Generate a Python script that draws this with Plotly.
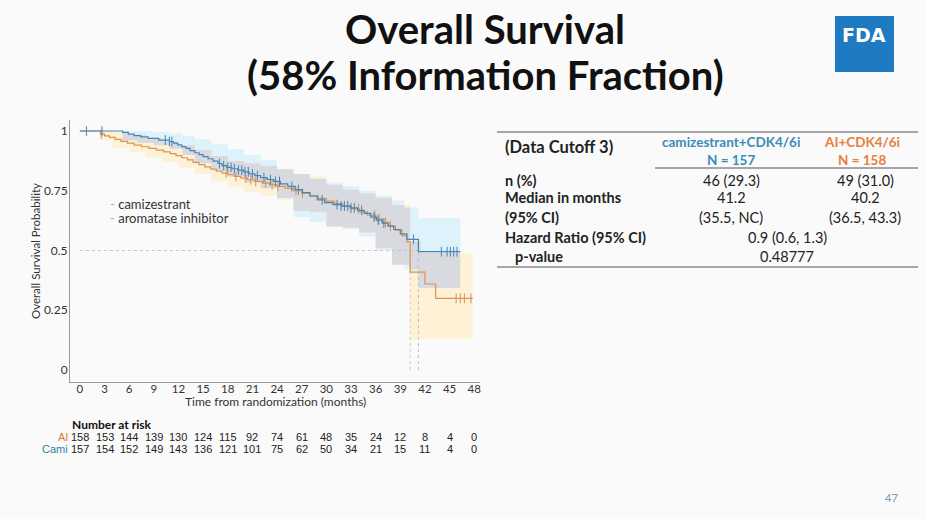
import numpy as np
import plotly.graph_objects as go

W, H = 926, 519

# Kaplan-Meier step data
cami_t = [0, 5.2, 5.9, 6.6, 7.4, 8.3, 9.6, 10.9, 11.4, 11.9, 12.4, 12.9, 13.4, 14.0, 14.5, 15.0, 15.6,
          16.2, 16.8, 17.3, 17.9, 18.5, 19.2, 19.9, 20.6, 21.3, 22.0, 22.8, 23.6, 24.4, 25.3, 26.2, 27.1,
          28.0, 28.9, 29.8, 30.8, 31.8, 32.9, 33.8, 34.6, 35.4, 36.1, 36.8, 37.5, 38.2, 39.0, 39.8, 41.2, 46.3]
cami_s = [1.0, 0.994, 0.987, 0.981, 0.975, 0.969, 0.962, 0.956, 0.949, 0.942, 0.935, 0.927, 0.918, 0.909, 0.901,
          0.893, 0.884, 0.874, 0.864, 0.855, 0.848, 0.842, 0.836, 0.829, 0.821, 0.813, 0.805, 0.797, 0.789,
          0.779, 0.768, 0.755, 0.742, 0.728, 0.712, 0.700, 0.692, 0.686, 0.678, 0.668, 0.655, 0.640, 0.627,
          0.614, 0.602, 0.588, 0.570, 0.547, 0.495, 0.495]

ai_t = [0, 2.5, 3.0, 3.6, 4.3, 5.0, 5.8, 6.6, 7.5, 8.4, 9.3, 10.2, 11.0, 11.7, 12.4, 13.1, 13.8, 14.5, 15.2,
        15.9, 16.6, 17.3, 18.0, 18.8, 19.6, 20.4, 21.3, 22.2, 23.1, 24.0, 25.0, 26.0, 27.0, 28.0, 29.0, 30.0,
        31.0, 32.0, 33.0, 34.0, 35.0, 36.0, 36.8, 37.6, 38.4, 39.2, 39.8, 40.2, 42.0, 43.3, 47.8]
ai_s = [1.0, 0.987, 0.980, 0.973, 0.965, 0.957, 0.949, 0.941, 0.934, 0.927, 0.920, 0.913, 0.905, 0.897, 0.888,
        0.879, 0.869, 0.859, 0.850, 0.841, 0.832, 0.824, 0.817, 0.810, 0.803, 0.796, 0.789, 0.782, 0.775,
        0.768, 0.760, 0.750, 0.740, 0.729, 0.718, 0.707, 0.696, 0.686, 0.675, 0.662, 0.648, 0.632, 0.618,
        0.602, 0.585, 0.562, 0.536, 0.41, 0.36, 0.30, 0.30]

# 95% confidence bands (step functions)
cami_band_t = [0, 5.2, 7, 9, 11, 12.5, 14, 16, 18, 20, 22, 24, 26, 28, 30, 32, 34, 36, 38, 39.5, 41.2, 46.3]
cami_up = [1.0, 1.0, 1.0, 0.995, 0.99, 0.98, 0.965, 0.945, 0.925, 0.90, 0.88, 0.84, 0.82, 0.80, 0.785, 0.77,
           0.75, 0.73, 0.71, 0.68, 0.635, 0.635]
cami_lo = [1.0, 0.96, 0.95, 0.94, 0.925, 0.90, 0.865, 0.835, 0.81, 0.785, 0.76, 0.72, 0.64, 0.62, 0.60, 0.59,
           0.56, 0.50, 0.44, 0.42, 0.343, 0.343]

ai_band_t = [0, 2.5, 4, 6, 8, 10, 12, 14, 16, 18, 20, 22, 24, 26, 28, 30, 32, 34, 36, 38, 40.2, 41.5, 43.3, 47.8]
ai_up = [1.0, 1.0, 0.995, 0.985, 0.97, 0.955, 0.94, 0.92, 0.895, 0.875, 0.865, 0.855, 0.84, 0.82, 0.81, 0.775,
         0.755, 0.74, 0.72, 0.69, 0.54, 0.49, 0.49, 0.49]
ai_lo = [1.0, 0.96, 0.93, 0.91, 0.89, 0.87, 0.845, 0.82, 0.79, 0.765, 0.745, 0.73, 0.71, 0.665, 0.66, 0.60,
         0.595, 0.575, 0.51, 0.44, 0.13, 0.13, 0.13, 0.13]

# censoring times
cami_cens = [0.8, 2.7, 10.4, 10.9, 11.2, 17.0, 17.5, 18.0, 18.4, 18.8, 19.3, 19.7, 20.1, 20.5, 21.0, 21.6,
             22.4, 23.2, 23.8, 24.3, 25.8, 26.6, 29.5, 31.3, 31.8, 32.2, 32.6, 33.0, 33.4, 34.3, 35.8, 36.3,
             37.0, 40.6, 44.0, 44.7, 45.1, 45.5, 45.9]
ai_cens = [2.6, 17.8, 19.0, 20.2, 20.8, 21.4, 22.6, 23.4, 24.1, 26.3, 27.1, 33.9, 35.9, 36.4, 37.2, 37.8,
           45.8, 46.3, 46.8, 47.6]

medians = {"ai": 40.2, "cami": 41.2}

# number at risk
risk_t = list(range(0, 49, 3))
ai_risk = [158, 153, 144, 139, 130, 124, 115, 92, 74, 61, 48, 35, 24, 12, 8, 4, 0]
cami_risk = [157, 154, 152, 149, 143, 136, 121, 101, 75, 62, 50, 34, 21, 15, 11, 4, 0]

y_ticks = [0, 0.25, 0.5, 0.75, 1]
y_ticktext = ["0", "0.25", "0.5", "0.75", "1"]

# summary table
tbl_rows = ["n (%)", "Median in months", "(95% CI)", "Hazard Ratio (95% CI)", "p-value"]
tbl_cami = ["46 (29.3)", "41.2", "(35.5, NC)"]
tbl_ai = ["49 (31.0)", "40.2", "(36.5, 43.3)"]
tbl_hr = ["0.9 (0.6, 1.3)", "0.48777"]

BLUE = "#4684b8"
ORANGE = "#dc9252"
BLUE_BAND = "#def2fb"
ORANGE_BAND = "#fdf1d6"
GREY_BAND = "#d9dadf"
BG = "#fafafa"
FONT = "Lato"


def px(x):
    return x / W


def py(y):
    return 1 - y / H


def step_at(bt, bv, t):
    idx = np.searchsorted(np.array(bt), t, side="right") - 1
    return np.array(bv)[idx]


fig = go.Figure()


def add_band(t, lo, up, color):
    fig.add_trace(go.Scatter(x=t, y=lo, mode="lines", line=dict(width=0, shape="hv"),
                             hoverinfo="skip", showlegend=False))
    fig.add_trace(go.Scatter(x=t, y=up, mode="lines", line=dict(width=0, shape="hv"),
                             fill="tonexty", fillcolor=color, hoverinfo="skip", showlegend=False))


add_band(cami_band_t, cami_lo, cami_up, BLUE_BAND)
add_band(ai_band_t, ai_lo, ai_up, ORANGE_BAND)

# overlap of the two bands shown in grey
grid = np.union1d(cami_band_t, ai_band_t)
grid = grid[grid <= min(cami_band_t[-1], ai_band_t[-1])]
ov_lo = np.maximum(step_at(cami_band_t, cami_lo, grid), step_at(ai_band_t, ai_lo, grid))
ov_up = np.minimum(step_at(cami_band_t, cami_up, grid), step_at(ai_band_t, ai_up, grid))
ov_up = np.maximum(ov_up, ov_lo)
add_band(grid, ov_lo, ov_up, GREY_BAND)

# median reference lines
fig.add_trace(go.Scatter(x=[0, max(medians.values())], y=[0.5, 0.5], mode="lines",
                         line=dict(color="#c4c4c4", width=1, dash="dot"), showlegend=False))
for k, col in [("ai", "#d8c7a8"), ("cami", "#b9bcc4")]:
    fig.add_trace(go.Scatter(x=[medians[k], medians[k]], y=[0, 0.5], mode="lines",
                             line=dict(color=col, width=1, dash="dot"), showlegend=False))

# survival curves
for t, s, cens, col in [(ai_t, ai_s, ai_cens, ORANGE), (cami_t, cami_s, cami_cens, BLUE)]:
    fig.add_trace(go.Scatter(x=t, y=s, mode="lines", line=dict(color=col, width=1.2, shape="hv"),
                             showlegend=False))
    fig.add_trace(go.Scatter(x=cens, y=step_at(t, s, cens), mode="markers",
                             marker=dict(symbol="line-ns", size=7, line=dict(color=col, width=1)),
                             showlegend=False))

fig.update_xaxes(domain=[px(70), px(480)], range=[-1.2, 48.7], tickvals=risk_t,
                 showline=True, linecolor="#9a9a9a", linewidth=1, showgrid=False, zeroline=False,
                 ticks="", ticklabelstandoff=-4,
                 tickfont=dict(family=FONT, size=11.5, color="#333"))
fig.update_yaxes(domain=[py(382), py(120)], range=[-0.05, 1.046], tickvals=y_ticks, ticktext=y_ticktext,
                 showline=True, linecolor="#9a9a9a", linewidth=1, showgrid=False, zeroline=False,
                 ticks="", ticklabelstandoff=-1,
                 tickfont=dict(family=FONT, size=12, color="#333"))

ann = []
# titles
ann.append(dict(x=px(485), y=py(29), text="<b>Overall Survival</b>", showarrow=False,
                font=dict(family=FONT, size=40, color="#111")))
ann.append(dict(x=px(485), y=py(75), text="<b>(58% Information Fraction)</b>", showarrow=False,
                font=dict(family=FONT, size=40, color="#111")))
# axis titles
ann.append(dict(x=px(275), y=py(401), text="Time from randomization (months)", showarrow=False,
                font=dict(family=FONT, size=12, color="#333")))
ann.append(dict(x=px(36), y=py(251), text="Overall Survival Probability", showarrow=False, textangle=-90,
                font=dict(family=FONT, size=11.5, color="#333")))
# legend
ann.append(dict(x=px(108), y=py(204), xanchor="left",
                text='<span style="color:#6cc0e6">-</span> camizestrant', showarrow=False,
                font=dict(family=FONT, size=13, color="#333")))
ann.append(dict(x=px(108), y=py(218), xanchor="left",
                text='<span style="color:#eaa462">-</span> aromatase inhibitor', showarrow=False,
                font=dict(family=FONT, size=13, color="#333")))
# number at risk
ann.append(dict(x=px(70), y=py(424), xanchor="left", text="<b>Number at risk</b>", showarrow=False,
                font=dict(family=FONT, size=12, color="#111")))
ann.append(dict(x=px(70), y=py(437), xanchor="right", text="AI", showarrow=False,
                font=dict(family="Liberation Sans", size=11, color="#e07c30")))
ann.append(dict(x=px(70), y=py(449), xanchor="right", text="Cami", showarrow=False,
                font=dict(family="Liberation Sans", size=11, color="#2f7fa3")))
for t, a, c in zip(risk_t, ai_risk, cami_risk):
    ann.append(dict(x=t, xref="x", y=py(437), yref="paper", text=str(a), showarrow=False,
                    font=dict(family="Liberation Sans", size=11, color="#222")))
    ann.append(dict(x=t, xref="x", y=py(449), yref="paper", text=str(c), showarrow=False,
                    font=dict(family="Liberation Sans", size=11, color="#222")))

# summary table
tf = dict(family=FONT, size=14.5, color="#222")
ann.append(dict(x=px(503), y=py(147), xanchor="left", text="<b>(Data Cutoff 3)</b>", showarrow=False,
                font=dict(family=FONT, size=16.5, color="#222")))
hc = dict(family=FONT, size=13.5, color="#3a8cb8")
ho = dict(family=FONT, size=13.5, color="#e5803a")
ann.append(dict(x=px(731), y=py(142), text="<b>camizestrant+CDK4/6i</b>", showarrow=False, font=hc))
ann.append(dict(x=px(731), y=py(160), text="<b>N = 157</b>", showarrow=False, font=hc))
ann.append(dict(x=px(862), y=py(142), text="<b>AI+CDK4/6i</b>", showarrow=False, font=ho))
ann.append(dict(x=px(862), y=py(160), text="<b>N = 158</b>", showarrow=False, font=ho))
row_y = [180, 198, 217, 238, 256]
for i, (lab, yy) in enumerate(zip(tbl_rows, row_y)):
    ann.append(dict(x=px(513 if lab == "p-value" else 503), y=py(yy), xanchor="left", text="<b>" + lab + "</b>",
                    showarrow=False, font=tf))
    if i < 3:
        ann.append(dict(x=px(731), y=py(yy), text=tbl_cami[i], showarrow=False, font=tf))
        ann.append(dict(x=px(865), y=py(yy), text=tbl_ai[i], showarrow=False, font=tf))
    else:
        ann.append(dict(x=px(787), y=py(yy), text=tbl_hr[i - 3], showarrow=False, font=tf))

# FDA logo and page number
ann.append(dict(x=px(864), y=py(35), text="<b>FDA</b>", showarrow=False,
                font=dict(family="DejaVu Sans", size=19, color="white")))
ann.append(dict(x=px(891), y=py(497), text="47", showarrow=False,
                font=dict(family=FONT, size=11, color="#6a9cc8")))

for a in ann:
    a.setdefault("xref", "paper")
    a.setdefault("yref", "paper")
    a.setdefault("xanchor", "center")
    a.setdefault("yanchor", "middle")

shapes = [
    dict(type="line", xref="paper", yref="paper", x0=px(497), x1=px(918), y0=py(132), y1=py(132),
         line=dict(color="#8a8a8a", width=1.5)),
    dict(type="line", xref="paper", yref="paper", x0=px(655), x1=px(918), y0=py(168), y1=py(168),
         line=dict(color="#8a8a8a", width=1.5)),
    dict(type="line", xref="paper", yref="paper", x0=px(497), x1=px(918), y0=py(267), y1=py(267),
         line=dict(color="#8a8a8a", width=1.5)),
    dict(type="rect", xref="paper", yref="paper", x0=px(835), x1=px(894), y0=py(72), y1=py(16),
         fillcolor="#1f7bc1", line=dict(width=0)),
]

fig.update_layout(width=W, height=H, margin=dict(l=0, r=0, t=0, b=0),
                  paper_bgcolor=BG, plot_bgcolor=BG, showlegend=False,
                  annotations=ann, shapes=shapes)

fig.write_html("out.html", config={"displayModeBar": False},
               post_script="document.body.style.margin='0';")
